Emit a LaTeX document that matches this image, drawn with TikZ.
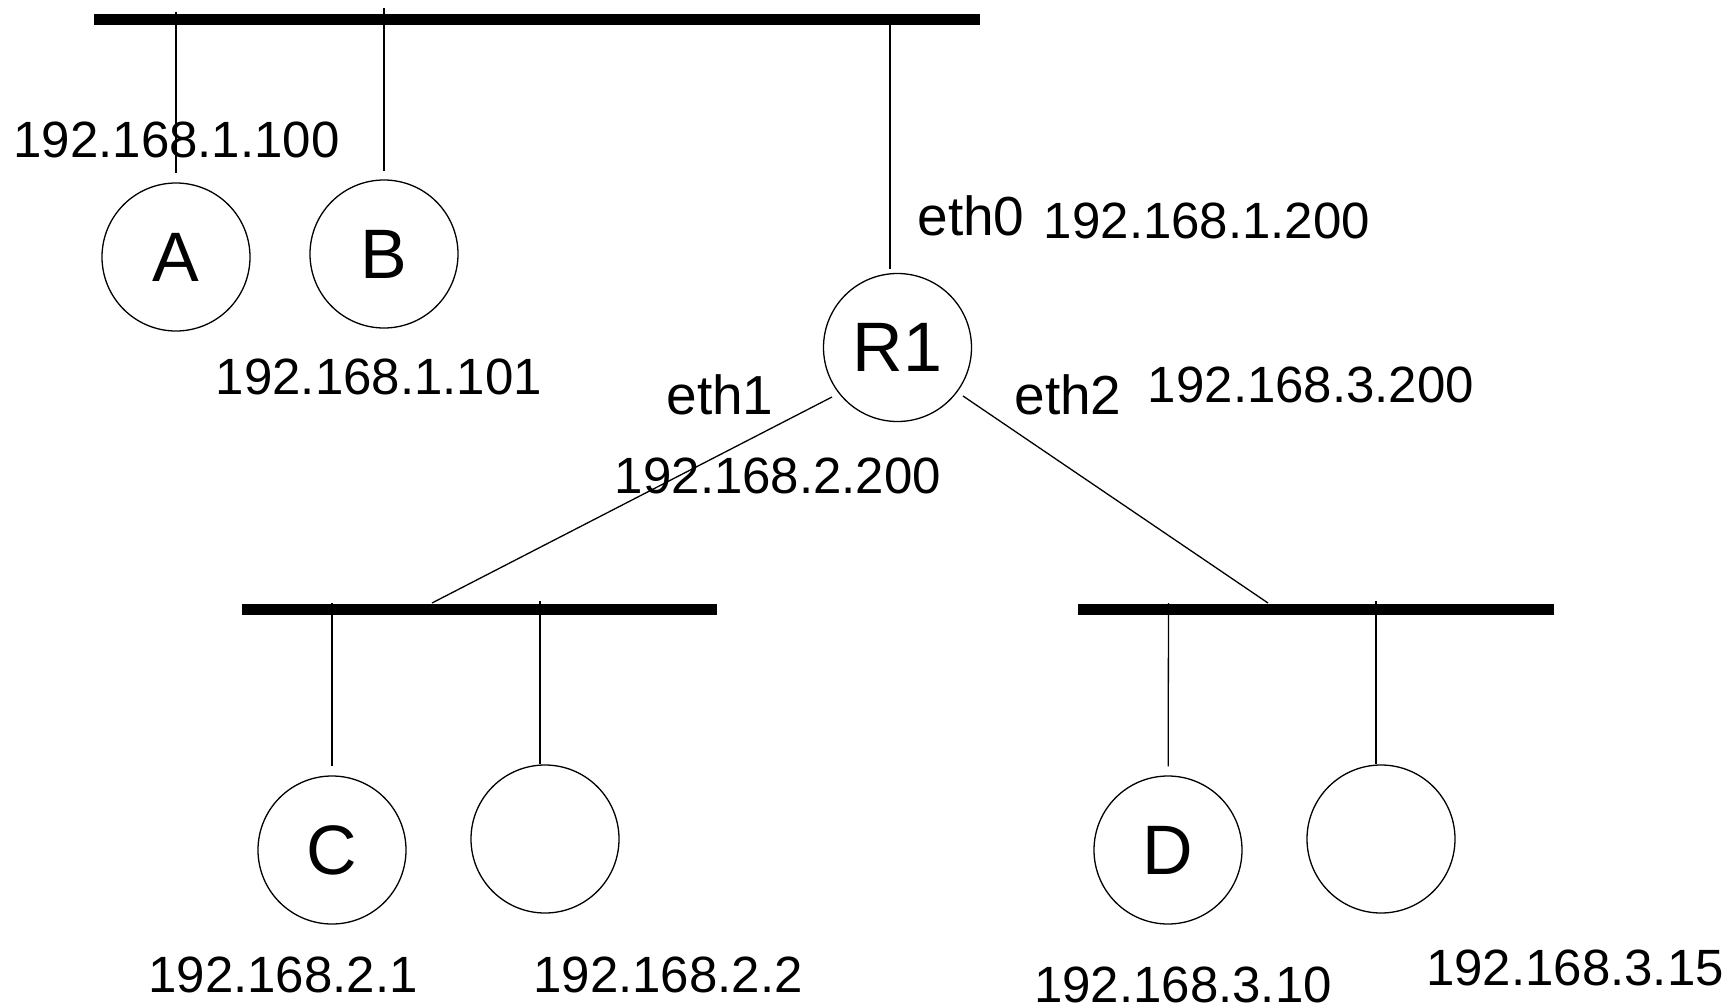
\documentclass[tikz,border=0pt]{standalone}
\usepackage{fontspec}
\setmainfont{Liberation Sans}
\begin{document}
\begin{tikzpicture}[x=1pt,y=-1pt,
  host/.style={circle,draw,line width=1.3pt,minimum size=148pt,inner sep=0pt,font=\fontsize{70}{84}\selectfont},
  bus/.style={line width=11pt},
  link/.style={line width=1.3pt},
  ip/.style={font=\fontsize{51}{61}\selectfont,inner sep=0pt},
  iface/.style={font=\fontsize{55}{66}\selectfont,inner sep=0pt}]
\useasboundingbox (0,0) rectangle (1733,1004);

% buses
\coordinate (t1) at (94,19);   \coordinate (t2) at (980,19);
\coordinate (l1) at (242,609); \coordinate (l2) at (717,609);
\coordinate (r1) at (1078,609);\coordinate (r2) at (1554,609);
\draw[bus] (t1) -- (t2);
\draw[bus] (l1) -- (l2);
\draw[bus] (r1) -- (r2);

% hosts
\node[host] (A)  at (176,257)     {A};
\node[host] (B)  at (384,254)     {B};
\node[host] (R1) at (897.5,347.5) {R1};
\node[host] (C)  at (332,850)     {C};
\node[host] (C2) at (545,839)     {};
\node[host] (D)  at (1168,850)    {D};
\node[host] (D2) at (1381,839)    {};

% drops
\coordinate (a0)  at (176,12);
\coordinate (b0)  at (384,8);
\coordinate (ro)  at (890,25);
\coordinate (c0)  at (332,603);
\coordinate (c20) at (540,601);
\coordinate (d0)  at (1168.5,603);
\coordinate (d20) at (1376,601);
\draw[link,shorten >=9pt]  (a0) -- (A);
\draw[link,shorten >=8pt]  (b0) -- (B);
\draw[link,shorten >=3.5pt] (ro) -- (ro |- R1.north);
\draw[link,shorten >=9pt]  (c0) -- (C);
\draw[link] (c20) -- (c20 |- C2.north);
\draw[link,shorten >=9pt]  (d0) -- (D);
\draw[link] (d20) -- (d20 |- D2.north);

% router links
\coordinate (e1s) at (832,397);  \coordinate (e1e) at (432,603);
\coordinate (e2s) at (963,396);  \coordinate (e2e) at (1268,603);
\draw[link] (e1s) -- (e1e);
\draw[link] (e2s) -- (e2e);

% labels
\node[ip] (ipA)  at (176.5,140) {192.168.1.100};
\node[ip] (ipB)  at (379,377)   {192.168.1.101};
\node[iface] (eth0) at (971,216) {eth0};
\node[ip] (ipR0) at (1207,221)  {192.168.1.200};
\node[iface] (eth1) at (720,395) {eth1};
\node[iface] (eth2) at (1068,395) {eth2};
\node[ip] (ipR2) at (1311,385)  {192.168.3.200};
\node[ip] (ipR1) at (778,476)   {192.168.2.200};
\node[ip] (ipC)  at (283,975)   {192.168.2.1};
\node[ip] (ipC2) at (668,975)   {192.168.2.2};
\node[ip] (ipD)  at (1183,985)  {192.168.3.10};
\node[ip] (ipD2) at (1575,968)  {192.168.3.15};
\end{tikzpicture}
\end{document}
